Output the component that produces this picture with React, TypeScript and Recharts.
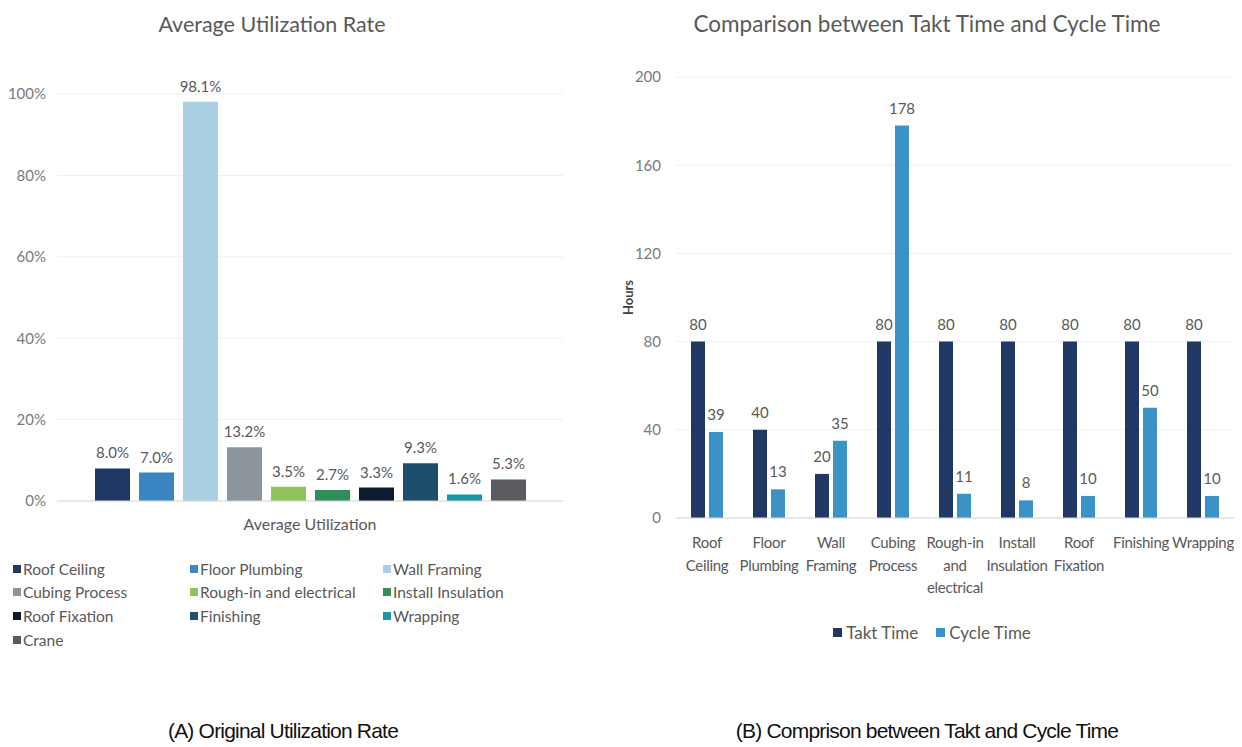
import { BarChart, Bar, XAxis, YAxis, CartesianGrid, LabelList } from "recharts";

const utilNames = [
  "Roof Ceiling",
  "Floor Plumbing",
  "Wall Framing",
  "Cubing Process",
  "Rough-in and electrical",
  "Install Insulation",
  "Roof Fixation",
  "Finishing",
  "Wrapping",
  "Crane",
];
const utilValues = [0.08, 0.07, 0.981, 0.132, 0.035, 0.027, 0.033, 0.093, 0.016, 0.053];
const utilColors = [
  "#1f3864", "#3b86c2", "#abd0e4", "#8c949c", "#8fc45c",
  "#2f8f5b", "#0e1a2f", "#1f4e6c", "#1a95a3", "#5a5b60",
];
const utilTicks = [0, 0.2, 0.4, 0.6, 0.8, 1];

const stages = [
  "Roof\nCeiling",
  "Floor\nPlumbing",
  "Wall\nFraming",
  "Cubing\nProcess",
  "Rough-in\nand\nelectrical",
  "Install\nInsulation",
  "Roof\nFixation",
  "Finishing",
  "Wrapping",
];
const taktTime = [80, 40, 20, 80, 80, 80, 80, 80, 80];
const cycleTime = [39, 13, 35, 178, 11, 8, 10, 50, 10];
const hourTicks = [0, 40, 80, 120, 160, 200];

const FONT = "Lato, 'Open Sans', sans-serif";
const INK = "#595959";
const AXIS_INK = "#7a7a7a";
const TAKT = "#1f3864";
const CYCLE = "#3a93c4";

const utilRow: Record<string, number | string> = { name: "Average Utilization" };
utilNames.forEach((n, i) => (utilRow[n] = utilValues[i]));
const utilData = [utilRow];

const cycleData = stages.map((s, i) => ({ stage: s, takt: taktTime[i], cycle: cycleTime[i] }));

function UtilLegend() {
  return (
    <div
      style={{
        position: "absolute",
        left: 13,
        top: 558,
        display: "grid",
        gridTemplateColumns: "177px 193px 180px",
        rowGap: 2.7,
        fontFamily: FONT,
        fontSize: 15.5,
        color: INK,
      }}
    >
      {utilNames.map((n, i) => (
        <div key={n} style={{ display: "flex", alignItems: "center", height: 21 }}>
          <span style={{ width: 8, height: 8, background: utilColors[i], marginRight: 2 }} />
          {n}
        </div>
      ))}
    </div>
  );
}

function CycleLegend() {
  const items = [
    { label: "Takt Time", color: TAKT },
    { label: "Cycle Time", color: CYCLE },
  ];
  return (
    <div
      style={{
        position: "absolute",
        left: 732,
        top: 622,
        width: 400,
        display: "flex",
        justifyContent: "center",
        gap: 18,
        fontFamily: FONT,
        fontSize: 17,
        color: INK,
      }}
    >
      {items.map((it) => (
        <div key={it.label} style={{ display: "flex", alignItems: "center" }}>
          <span style={{ width: 9, height: 9, background: it.color, marginRight: 4 }} />
          {it.label}
        </div>
      ))}
    </div>
  );
}

function StageTick(props: any) {
  const { x, y, payload } = props;
  const lines = String(payload.value).split("\n");
  return (
    <text x={x} y={y} textAnchor="middle" fill={INK} fontSize={15} fontFamily={FONT} letterSpacing={-0.3}>
      {lines.map((l, i) => (
        <tspan key={i} x={x} dy={i === 0 ? 22 : 22.5}>
          {l}
        </tspan>
      ))}
    </text>
  );
}

const captionStyle: React.CSSProperties = {
  position: "absolute",
  top: 719,
  fontFamily: "'Liberation Sans', Arial, sans-serif",
  fontSize: 21,
  color: "#111",
  textAlign: "center",
  letterSpacing: -0.8,
};

const titleStyle: React.CSSProperties = {
  position: "absolute",
  top: 11,
  fontFamily: FONT,
  color: INK,
  textAlign: "center",
};

export default function App() {
  return (
    <div style={{ position: "absolute", left: 0, top: 0, width: 1242, height: 747, background: "#fff", overflow: "hidden" }}>
      <div style={{ ...titleStyle, left: 60, width: 424, fontSize: 21.5 }}>Average Utilization Rate</div>
      <div style={{ ...titleStyle, left: 627, width: 600, fontSize: 22.5, top: 10 }}>
        Comparison between Takt Time and Cycle Time
      </div>

      <div style={{ position: "absolute", left: 0, top: 0 }}>
        <BarChart
          width={580}
          height={680}
          data={utilData}
          margin={{ top: 94, right: 17, left: 7, bottom: 149 }}
          barGap={9}
          barCategoryGap="7%"
        >
          <CartesianGrid vertical={false} stroke="#f0f0f0" />
          <XAxis
            dataKey="name"
            axisLine={{ stroke: "#d9d9d9" }}
            tickLine={false}
            tick={{ fill: INK, fontSize: 16, fontFamily: FONT, dy: 10 }}
          />
          <YAxis
            width={50}
            domain={[0, 1]}
            ticks={utilTicks}
            axisLine={false}
            tickLine={false}
            tickFormatter={(v) => `${Math.round(v * 100)}%`}
            tick={{ fill: AXIS_INK, fontSize: 15, fontFamily: FONT, dx: -3 }}
          />
          {utilNames.map((n, i) => (
            <Bar key={n} dataKey={n} fill={utilColors[i]} barSize={35} isAnimationActive={false}>
              <LabelList
                dataKey={n}
                position="top"
                offset={10}
                formatter={(v: any) => `${(Number(v) * 100).toFixed(1)}%`}
                style={{ fill: INK, fontSize: 15, fontFamily: FONT }}
              />
            </Bar>
          ))}
        </BarChart>
      </div>
      <UtilLegend />

      <div style={{ position: "absolute", left: 600, top: 0 }}>
        <BarChart
          width={642}
          height={680}
          data={cycleData}
          margin={{ top: 77, right: 8, left: 16, bottom: 132 }}
          barGap={4}
          barCategoryGap="24%"
        >
          <CartesianGrid vertical={false} stroke="#f0f0f0" />
          <XAxis dataKey="stage" axisLine={{ stroke: "#d9d9d9" }} tickLine={false} interval={0} tick={<StageTick />} />
          <YAxis
            width={60}
            domain={[0, 200]}
            ticks={hourTicks}
            axisLine={false}
            tickLine={false}
            tick={{ fill: AXIS_INK, fontSize: 15, fontFamily: FONT, dx: -7 }}
            label={{
              value: "Hours",
              angle: -90,
              position: "insideLeft",
              offset: 12,
              style: { fill: "#404040", fontSize: 13, fontWeight: 700, fontFamily: FONT, textAnchor: "middle" },
            }}
          />
          <Bar dataKey="takt" fill={TAKT} barSize={14} isAnimationActive={false}>
            <LabelList dataKey="takt" position="top" offset={12} style={{ fill: INK, fontSize: 15, fontFamily: FONT }} />
          </Bar>
          <Bar dataKey="cycle" fill={CYCLE} barSize={14} isAnimationActive={false}>
            <LabelList dataKey="cycle" position="top" offset={12} style={{ fill: INK, fontSize: 15, fontFamily: FONT }} />
          </Bar>
        </BarChart>
      </div>
      <CycleLegend />

      <div style={{ ...captionStyle, left: 100, width: 366 }}>(A) Original Utilization Rate</div>
      <div style={{ ...captionStyle, left: 727, width: 400 }}>(B) Comprison between Takt and Cycle Time</div>
    </div>
  );
}
